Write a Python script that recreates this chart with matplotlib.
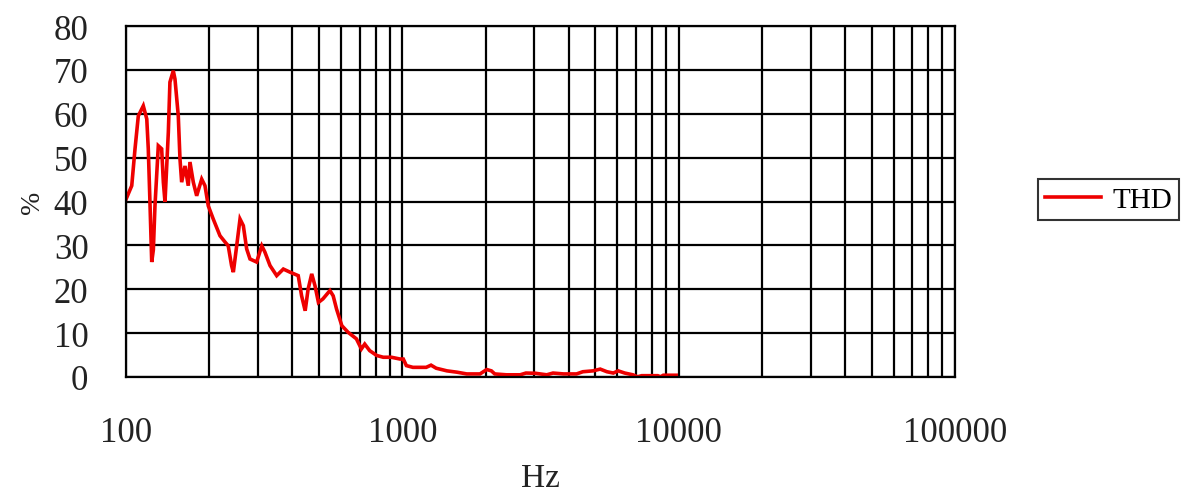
import matplotlib
matplotlib.use("Agg")
import matplotlib.pyplot as plt
from matplotlib.ticker import FixedLocator, NullFormatter

plt.rcParams['font.family'] = ['Liberation Serif', 'DejaVu Serif']

freq = [100, 104.9, 107.8, 110.8, 115.5, 118.9, 120.4, 122, 123.9, 125.6, 127.3,
        130.9, 134.6, 136.5, 138.4, 142.3, 144.2, 148.3, 150.4, 154.6, 156.8, 159,
        163.5, 168, 170.4, 175.2, 180.2, 187.9, 193.1, 198.5, 206.9, 218.8, 228,
        234.4, 241, 244.6, 251.5, 258.6, 265.8, 273.3, 281, 297, 310, 318, 332,
        351, 371, 392, 420, 432, 445, 456, 470, 483, 497, 516, 547, 562, 578,
        604, 636, 682, 711, 731, 762, 808, 853, 913, 980, 1008, 1034, 1092,
        1220, 1270, 1326, 1450, 1575, 1710, 1910, 2020, 2100, 2160, 2380, 2670,
        2800, 3030, 3330, 3510, 3830, 4270, 4500, 4900, 5200, 5500, 5800, 6040,
        6380, 6830, 7100, 7350, 8400, 8600, 8800, 9800]
thd = [40.5, 43.6, 52.0, 59.5, 61.8, 58.8, 52.0, 40.5, 26.2, 29.0, 39.0,
       52.7, 52.0, 44.4, 39.9, 55.8, 67.2, 69.8, 67.9, 59.5, 49.7, 44.4,
       48.1, 43.6, 49.0, 44.4, 41.3, 45.1, 43.6, 39.0, 36.0, 32.2, 30.8,
       29.9, 25.4, 23.9, 29.9, 36.0, 34.5, 29.2, 26.9, 26.2, 29.9, 28.5, 25.4,
       23.1, 24.6, 23.9, 23.1, 18.5, 15.1, 20.0, 23.5, 20.8, 17.0, 17.8, 19.7, 18.5, 15.5,
       11.7, 10.2, 8.7, 6.4, 7.5, 6.0, 4.9, 4.5, 4.5, 4.1, 4.1, 2.6, 2.2,
       2.2, 2.7, 2.0, 1.4, 1.1, 0.7, 0.7, 1.7, 1.4, 0.7, 0.5, 0.5,
       0.9, 0.85, 0.5, 0.9, 0.7, 0.7, 1.2, 1.4, 1.8, 1.2, 0.9, 1.4,
       0.9, 0.5, 0.05, 0.3, 0.3, 0.05, 0.4, 0.4]

y_ticks = [0, 10, 20, 30, 40, 50, 60, 70, 80]
x_ticks = [100, 1000, 10000, 100000]
x_labels = ['100', '1000', '10000', '100000']

fig = plt.figure(figsize=(11.92, 5.02), dpi=100)
ax = fig.add_axes([126/1192, 1-378/502, (955-126)/1192, (378-27)/502])

ax.plot(freq, thd, color='#EE0000', lw=2.6, label='THD', zorder=2,
        solid_joinstyle='miter')
ax.set_xscale('log')
ax.set_xlim(100, 100000)
ax.set_ylim(0, 80)

minor = [m * d for d in (100, 1000, 10000) for m in range(2, 10)]
ax.xaxis.set_major_locator(FixedLocator(x_ticks))
ax.xaxis.set_minor_locator(FixedLocator(minor))
ax.xaxis.set_minor_formatter(NullFormatter())
ax.set_xticklabels(x_labels)
ax.set_yticks(y_ticks)

ax.grid(True, which='both', axis='x', color='black', lw=1.6, zorder=1)
ax.grid(True, which='major', axis='y', color='black', lw=1.6, zorder=1)
ax.set_axisbelow(True)
for s in ax.spines.values():
    s.set_linewidth(1.6)
    s.set_color('black')

ax.tick_params(axis='both', which='both', length=0, labelsize=25, colors='#222222')
ax.tick_params(axis='x', pad=28)
ax.tick_params(axis='y', pad=27)

ax.set_xlabel('Hz', fontsize=24, color='#222222', labelpad=10)
ax.set_ylabel('%', fontsize=20, color='#222222', labelpad=0)
ax.yaxis.set_label_coords(-0.098, 0.5)

leg = ax.legend(loc='center left', bbox_to_anchor=(1.1, 0.505), fontsize=21,
                frameon=True, fancybox=False, edgecolor='black', handlelength=1.9,
                handletextpad=0.4, borderpad=0.25, borderaxespad=0)
leg.get_frame().set_linewidth(1.5)

fig.savefig('out.png', dpi=100)
